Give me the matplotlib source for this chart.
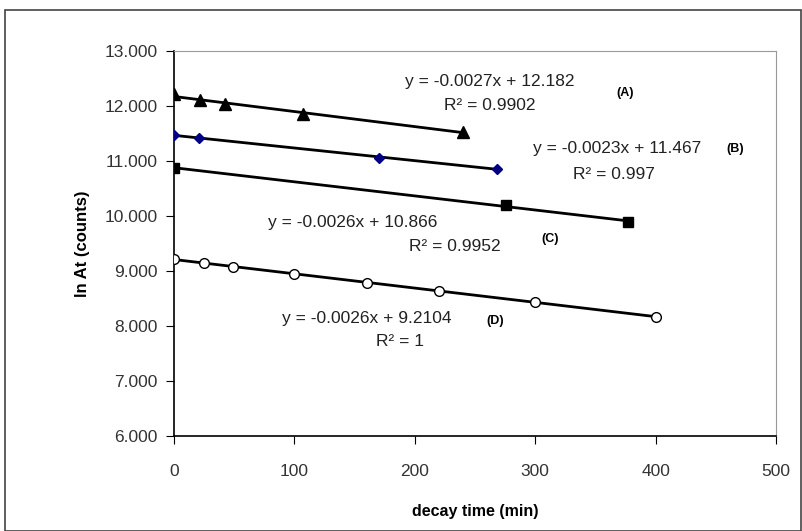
import matplotlib.pyplot as plt
import numpy as np
from matplotlib.patches import Rectangle

plt.rcParams['font.family'] = ['Liberation Sans', 'DejaVu Sans']

# series A (triangles)
xA = [0, 22, 42, 107, 240]
yA = [12.21, 12.11, 12.03, 11.86, 11.53]
# series B (diamonds)
xB = [0, 21, 170, 268]
yB = [11.48, 11.41, 11.06, 10.86]
# series C (squares)
xC = [0, 276, 377]
yC = [10.87, 10.20, 9.89]
# series D (open circles)
xD = [0, 25, 49, 100, 160, 220, 300, 400]
yD = [9.21, 9.145, 9.08, 8.95, 8.79, 8.64, 8.43, 8.17]

eqs = ["y = -0.0027x + 12.182", "y = -0.0023x + 11.467",
       "y = -0.0026x + 10.866", "y = -0.0026x + 9.2104"]
r2s = ["R² = 0.9902", "R² = 0.997", "R² = 0.9952", "R² = 1"]
tags = ["(A)", "(B)", "(C)", "(D)"]

fig = plt.figure(figsize=(8.02, 5.31), dpi=100)
fig.patches.append(Rectangle((5 / 802, 0.0), 796 / 802, 1 - 10 / 531,
                             transform=fig.transFigure, fill=False,
                             edgecolor='#444444', linewidth=1.2))
ax = fig.add_axes([174 / 802, 1 - 436 / 531, 602 / 802, 385 / 531])

series = [(xA, yA, '^', 'black', 'black', 8),
          (xB, yB, 'D', '#000080', '#000080', 5.5),
          (xC, yC, 's', 'black', 'black', 7),
          (xD, yD, 'o', 'white', 'black', 7)]
for x, y, m, fc, ec, ms in series:
    k, b = np.polyfit(x, y, 1)
    xs = np.array([min(x), max(x)])
    ax.plot(xs, k * xs + b, color='black', linewidth=2, zorder=2)
    ax.plot(x, y, linestyle='none', marker=m, markerfacecolor=fc,
            markeredgecolor=ec, markersize=ms, zorder=3)

eq_pos = [(262, 12.44), (368, 11.22), (148, 9.89), (160, 8.13)]
r2_pos = [(262, 12.0), (365, 10.76), (233, 9.45), (188, 7.71)]
tag_pos = [(375, 12.24), (466, 11.22), (312, 9.58), (267, 8.09)]
for t, (px, py) in zip(eqs, eq_pos):
    ax.text(px, py, t, ha='center', va='center', fontsize=12.5,
            color='#222222')
for t, (px, py) in zip(r2s, r2_pos):
    ax.text(px, py, t, ha='center', va='center', fontsize=12.5,
            color='#222222')
for t, (px, py) in zip(tags, tag_pos):
    ax.text(px, py, t, ha='center', va='center', fontsize=9,
            fontweight='bold')

ax.set_xlim(0, 500)
ax.set_ylim(6, 13)
ax.set_xticks(np.arange(0, 501, 100))
ax.set_yticks(np.arange(6, 13.1, 1))
ax.set_yticklabels(['%.3f' % v for v in np.arange(6, 13.1, 1)])
ax.tick_params(direction='out', length=6, labelsize=12.5, colors='black',
               labelcolor='#333333')
ax.tick_params(axis='x', pad=14)
ax.tick_params(axis='y', pad=6)
for s in ['top', 'right']:
    ax.spines[s].set_color('#999999')
ax.spines['left'].set_linewidth(1.2)
ax.spines['bottom'].set_linewidth(1.2)

ax.set_xlabel('decay time (min)', fontsize=11.5, fontweight='bold', labelpad=18)
ax.set_ylabel('ln At (counts)', fontsize=12, fontweight='bold', labelpad=10)

fig.savefig('out.png', dpi=100)
